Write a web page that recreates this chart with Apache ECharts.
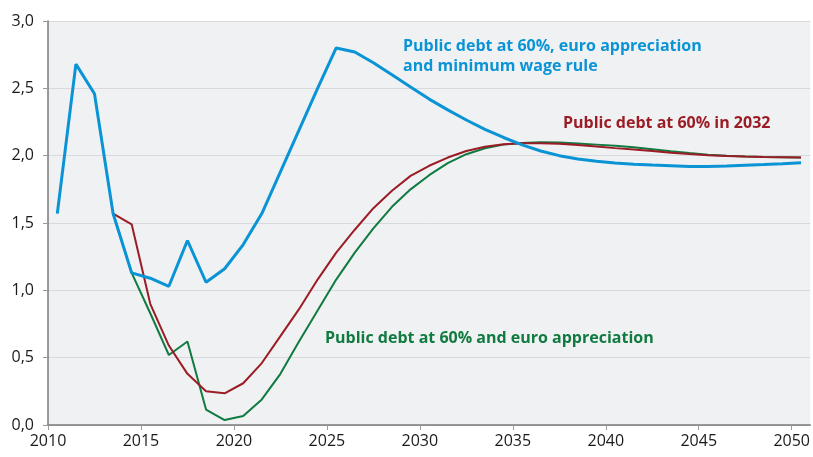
<!DOCTYPE html>
<html>
<head>
<meta charset="utf-8">
<script src="https://cdn.jsdelivr.net/npm/echarts@6/dist/echarts.min.js"></script>
<style>
  html, body { margin: 0; padding: 0; background: #ffffff; }
  #chart { width: 813px; height: 457px; }
</style>
</head>
<body>
<div id="chart"></div>
<script>
// Years are plotted at mid-year (e.g. 2010.5)
const years = [2010,2011,2012,2013,2014,2015,2016,2017,2018,2019,2020,2021,2022,2023,2024,2025,2026,2027,2028,2029,2030,
  2031,2032,2033,2034,2035,2036,2037,2038,2039,2040,2041,2042,2043,2044,2045,2046,2047,2048,2049,2050];

// Public debt at 60%, euro appreciation and minimum wage rule
const blueValues = [1.57,2.68,2.46,1.57,1.13,1.09,1.03,1.37,1.06,1.16,1.34,1.57,1.88,2.19,2.50,2.80,2.77,2.69,2.60,2.51,2.42,
  2.34,2.265,2.195,2.135,2.08,2.035,2.0,1.975,1.958,1.945,1.937,1.93,1.925,1.92,1.92,1.924,1.929,1.934,1.94,1.947];

// Public debt at 60% in 2032 (starts in 2013)
const redValues = [null,null,null,1.57,1.49,0.90,0.59,0.38,0.25,0.235,0.31,0.46,0.66,0.86,1.08,1.28,1.45,1.61,1.74,1.85,1.925,
  1.986,2.035,2.066,2.084,2.092,2.093,2.088,2.079,2.068,2.056,2.045,2.034,2.022,2.012,2.003,1.997,1.993,1.99,1.988,1.986];

// Public debt at 60% and euro appreciation (starts in 2013)
const greenValues = [null,null,null,1.57,1.13,0.83,0.52,0.62,0.115,0.037,0.067,0.19,0.38,0.62,0.85,1.08,1.28,1.46,1.62,1.75,1.855,
  1.944,2.011,2.055,2.082,2.094,2.10,2.097,2.09,2.082,2.073,2.062,2.048,2.033,2.019,2.007,1.999,1.994,1.99,1.988,1.986];

const yTicks = [0, 0.5, 1.0, 1.5, 2.0, 2.5, 3.0];

function pairs(values) {
  const out = [];
  values.forEach((v, i) => { if (v !== null) out.push([years[i] + 0.5, v]); });
  return out;
}

const BLUE = '#0a94d6';
const RED = '#9c1c26';
const GREEN = '#107a40';
const FONT = 'Open Sans';

const chart = echarts.init(document.getElementById('chart'), null, { renderer: 'canvas' });

chart.setOption({
  animation: false,
  backgroundColor: '#ffffff',
  grid: {
    left: 48, right: 0, top: 21, bottom: 32,
    show: true, backgroundColor: '#f0f1f3', borderWidth: 0
  },
  xAxis: {
    type: 'value',
    min: 2010, max: 2051, interval: 5,
    axisLine: { show: true, lineStyle: { color: '#7a7a7a', width: 1.5 } },
    axisTick: { show: true, length: 5, lineStyle: { color: '#9a9a9a', width: 1 } },
    axisLabel: { showMaxLabel: false, color: '#1a1a1a', fontFamily: FONT, fontSize: 16, margin: 8,
      formatter: v => String(v) },
    splitLine: { show: false }
  },
  yAxis: {
    type: 'value',
    min: yTicks[0], max: yTicks[yTicks.length - 1], interval: 0.5,
    axisLine: { show: true, lineStyle: { color: '#7a7a7a', width: 1.5 } },
    axisTick: { show: true, length: 5, lineStyle: { color: '#9a9a9a', width: 1 } },
    axisLabel: { color: '#1a1a1a', fontFamily: FONT, fontSize: 16, margin: 14,
      formatter: v => v.toFixed(1).replace('.', ',') },
    splitLine: { show: true, lineStyle: { color: '#d8d9dc', width: 1 } }
  },
  series: [
    { name: 'Public debt at 60% and euro appreciation', type: 'line', data: pairs(greenValues),
      showSymbol: false, lineStyle: { color: GREEN, width: 2 }, z: 2 },
    { name: 'Public debt at 60% in 2032', type: 'line', data: pairs(redValues),
      showSymbol: false, lineStyle: { color: RED, width: 2 }, z: 3 },
    { name: 'Public debt at 60%, euro appreciation and minimum wage rule', type: 'line', data: pairs(blueValues),
      showSymbol: false, lineStyle: { color: BLUE, width: 3 }, z: 4 }
  ],
  graphic: [
    { type: 'text', left: 403, top: 36, z: 10,
      style: { text: 'Public debt at 60%, euro appreciation\nand minimum wage rule', fill: BLUE,
        font: 'bold 16px ' + FONT, lineHeight: 20 } },
    { type: 'text', left: 563, top: 115, z: 10,
      style: { text: 'Public debt at 60% in 2032', fill: RED, font: 'bold 16px ' + FONT } },
    { type: 'text', left: 325, top: 330, z: 10,
      style: { text: 'Public debt at 60% and euro appreciation', fill: GREEN, font: 'bold 16px ' + FONT } }
  ]
});
</script>
</body>
</html>
